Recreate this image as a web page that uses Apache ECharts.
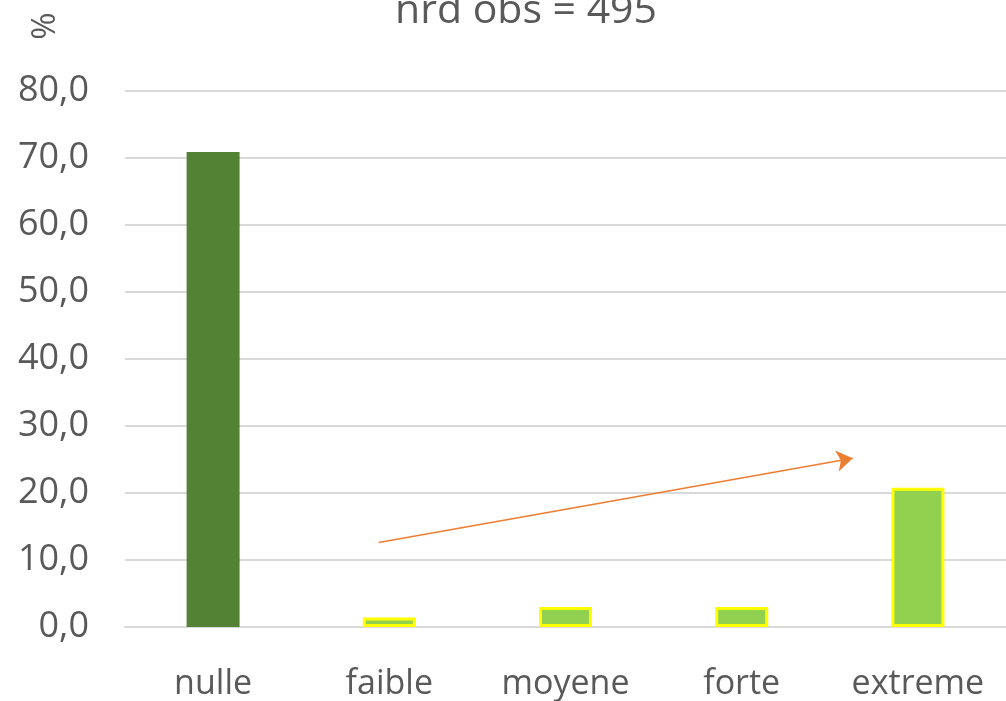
<!DOCTYPE html>
<html><head><meta charset="utf-8">
<script src="https://cdn.jsdelivr.net/npm/echarts@6/dist/echarts.min.js"></script>
<style>html,body{margin:0;padding:0;background:#fff}#c{width:1006px;height:701px}</style>
</head><body><div id="c"></div>
<script>
var categories = ['nulle', 'faible', 'moyene', 'forte', 'extreme'];
var values = [70.9, 1.4, 3.0, 3.0, 20.8];
var yTicks = [0, 10, 20, 30, 40, 50, 60, 70, 80];
var titleText = 'nrd obs = 495';
var axisUnit = '%';
// trend arrow annotation, in (category position, value) units
var arrowStart = [0.94, 12.6];
var arrowEnd = [3.63, 25.2];

var font = '"Open Sans", sans-serif';
var grey = '#595959';
var chart = echarts.init(document.getElementById('c'));
chart.setOption({
  animation: false,
  grid: { left: 125, right: -7, top: 91, bottom: 70, containLabel: false },
  xAxis: [{
    type: 'category', data: categories,
    axisLine: { lineStyle: { color: '#D9D9D9', width: 2 } },
    axisTick: { show: false },
    axisLabel: { color: grey, fontFamily: font, fontSize: 34, margin: 40 }
  }, {
    type: 'value', min: -0.5, max: 4.5, show: false
  }],
  yAxis: {
    type: 'value', min: yTicks[0], max: yTicks[yTicks.length - 1], interval: 10,
    axisLine: { show: false }, axisTick: { show: false },
    splitLine: { lineStyle: { color: '#D9D9D9', width: 2 } },
    axisLabel: { color: grey, fontFamily: font, fontSize: 36, margin: 36,
      formatter: function (v) { return v.toFixed(1).replace('.', ','); } }
  },
  graphic: [
    { type: 'text', x: 526, y: 11, style: { text: titleText, fill: grey, font: '41px ' + font, textAlign: 'center', textVerticalAlign: 'middle' } },
    { type: 'text', x: 46, y: 26, rotation: Math.PI / 2, style: { text: axisUnit, fill: grey, font: '33px ' + font, textAlign: 'center', textVerticalAlign: 'middle' } }
  ],
  series: [{
    type: 'bar', barWidth: 53,
    data: values.map(function (v, i) {
      return i === 0 ? { value: v, itemStyle: { color: '#548235' } }
        : { value: v, itemStyle: { color: '#92D050', borderColor: '#FFFF00', borderWidth: 3 } };
    })
  }, {
    type: 'lines', coordinateSystem: 'cartesian2d', xAxisIndex: 1, yAxisIndex: 0,
    symbol: ['none', 'arrow'], symbolSize: 16,
    lineStyle: { color: '#ED7D31', width: 1.5, opacity: 1 },
    data: [{ coords: [arrowStart, arrowEnd] }]
  }]
});
</script></body></html>
